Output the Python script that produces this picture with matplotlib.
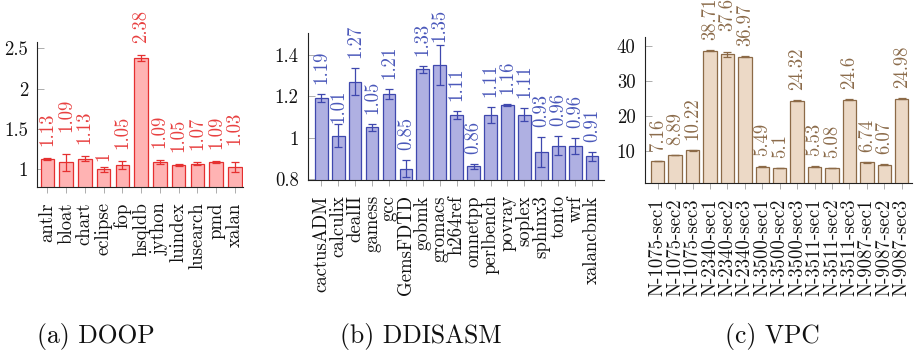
import matplotlib
matplotlib.use('Agg')
import matplotlib.pyplot as plt
import numpy as np

plt.rcParams['font.family'] = ['cmr10', 'DejaVu Serif']
plt.rcParams['axes.unicode_minus'] = False
plt.rcParams['mathtext.fontset'] = 'cm'
plt.rcParams['axes.formatter.use_mathtext'] = True

# ---------------- data ----------------
doop_names = ['antlr', 'bloat', 'chart', 'eclipse', 'fop', 'hsqldb', 'jython',
              'luindex', 'lusearch', 'pmd', 'xalan']
doop_vals = [1.13, 1.09, 1.13, 1.00, 1.05, 2.38, 1.09, 1.05, 1.07, 1.09, 1.03]
doop_errs = [0.015, 0.105, 0.03, 0.035, 0.05, 0.04, 0.022, 0.012, 0.022, 0.01, 0.06]
doop_yticks = [1, 1.5, 2, 2.5]
doop_yticklabels = ['1', '1.5', '2', '2.5']

ddisasm_names = ['cactusADM', 'calculix', 'dealII', 'gamess', 'gcc', 'GemsFDTD',
                 'gobmk', 'gromacs', 'h264ref', 'omnetpp', 'perlbench', 'povray',
                 'soplex', 'sphinx3', 'tonto', 'wrf', 'xalancbmk']
ddisasm_vals = [1.19, 1.01, 1.27, 1.05, 1.21, 0.85, 1.33, 1.35, 1.11, 0.86, 1.11,
                1.16, 1.11, 0.93, 0.96, 0.96, 0.91]
ddisasm_errs = [0.02, 0.058, 0.066, 0.016, 0.024, 0.04, 0.019, 0.096, 0.018, 0.012,
                0.04, 0.005, 0.032, 0.074, 0.046, 0.04, 0.022]
ddisasm_yticks = [0.8, 1.0, 1.2, 1.4]
ddisasm_yticklabels = ['0.8', '1', '1.2', '1.4']

vpc_names = ['N-1075-sec1', 'N-1075-sec2', 'N-1075-sec3',
             'N-2340-sec1', 'N-2340-sec2', 'N-2340-sec3',
             'N-3500-sec1', 'N-3500-sec2', 'N-3500-sec3',
             'N-3511-sec1', 'N-3511-sec2', 'N-3511-sec3',
             'N-9087-sec1', 'N-9087-sec2', 'N-9087-sec3']
vpc_vals = [7.16, 8.89, 10.22, 38.71, 37.6, 36.97, 5.49, 5.1, 24.32,
            5.53, 5.08, 24.6, 6.74, 6.07, 24.98]
vpc_errs = [0.1, 0.1, 0.1, 0.2, 0.8, 0.1, 0.1, 0.05, 0.15,
            0.1, 0.05, 0.15, 0.1, 0.1, 0.2]
vpc_yticks = [10, 20, 30, 40]
vpc_yticklabels = ['10', '20', '30', '40']

captions = ['(a) DOOP', '(b) DDISASM', '(c) VPC']

# ---------------- figure ----------------
W, H = 916, 354
fig = plt.figure(figsize=(W / 100, H / 100), dpi=100)


def rect_px(left, right, top, bottom):
    return [left / W, (H - bottom) / H, (right - left) / W, (bottom - top) / H]


def panel(rect, names, vals, errs, xlim, ylim, yticks, yticklabels,
          fill, edge, tcolor, width, base_pad, nudges):
    ax = fig.add_axes(rect)
    x = np.arange(len(names))
    ax.bar(x, vals, width, color=fill, edgecolor=edge, linewidth=0.9, zorder=2)
    ax.errorbar(x, vals, yerr=errs, fmt='none', ecolor=edge, elinewidth=0.9,
                capsize=3, capthick=0.9, zorder=3)
    for i, (xi, v, e) in enumerate(zip(x, vals, errs)):
        pad_px = base_pad + nudges.get(i, 0)
        ax.annotate(f'{v:g}', (xi, v + e), xytext=(0, pad_px * 0.72),
                    textcoords='offset points', rotation=90, ha='center',
                    va='bottom', color=tcolor, fontsize=13.5,
                    annotation_clip=False)
    ax.set_xlim(*xlim)
    ax.set_ylim(*ylim)
    ax.set_xticks(x)
    ax.set_xticklabels(names, rotation=90, fontsize=13.5)
    ax.set_yticks(yticks)
    ax.set_yticklabels(yticklabels, fontsize=13.5)
    for s in ['top', 'right']:
        ax.spines[s].set_visible(False)
    for s in ['left', 'bottom']:
        ax.spines[s].set_linewidth(0.8)
        ax.spines[s].set_color('#222222')
    ax.tick_params(axis='y', direction='in', length=5, width=0.6,
                   color='#a0a0a0', pad=6.5, labelcolor='#111111')
    ax.tick_params(axis='x', direction='out', length=4.3, width=0.6,
                   color='#a0a0a0', pad=7, labelcolor='#111111')
    ax.patch.set_alpha(0)
    return ax


panel(rect_px(37.3, 243, 41.7, 186.7), doop_names, doop_vals, doop_errs,
      (-0.534, 10.44), (0.785, 2.58), doop_yticks, doop_yticklabels,
      '#FFB3B3', '#E53030', '#E84040', 0.72, 12, {1: 10, 3: -6, 10: 5})

panel(rect_px(307.7, 604, 33.3, 179.5), ddisasm_names, ddisasm_vals, ddisasm_errs,
      (-0.80, 16.70), (0.797, 1.505), ddisasm_yticks, ddisasm_yticklabels,
      '#AFB0E2', '#3F48AE', '#4A58BA', 0.75, 10, {1: -9, 7: -7})

panel(rect_px(644.5, 912, 36.7, 182.7), vpc_names, vpc_vals, vpc_errs,
      (-0.757, 14.59), (0.94, 42.66), vpc_yticks, vpc_yticklabels,
      '#ECD9C6', '#8C6A47', '#8B6B4A', 0.77, 10, {4: 11})

for cap, cx in zip(captions, [96, 421, 772]):
    fig.text(cx / W, 1 - 336 / H, cap, ha='center', va='center', fontsize=18.4,
             color='#111111')

fig.savefig('out.png', dpi=100)
